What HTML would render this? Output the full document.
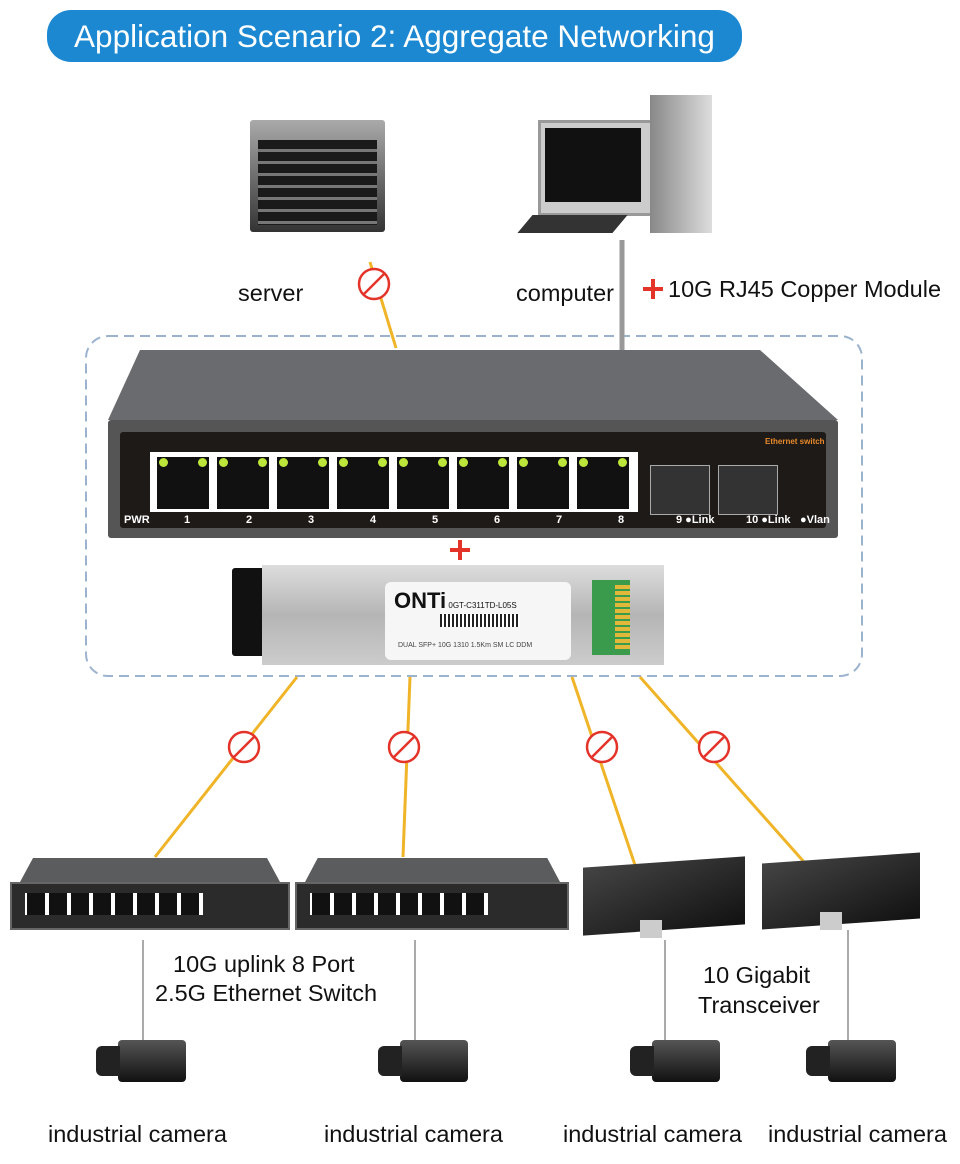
<!DOCTYPE html>
<html><head><style>
body{margin:0;width:960px;height:1164px;background:#fff;position:relative;overflow:hidden;font-family:"Liberation Sans",sans-serif}
.a{position:absolute}
.t{position:absolute;font-size:23.5px;color:#111;white-space:nowrap}
.port{position:absolute;top:455px;width:52px;height:52px;background:#111;border:2px solid #fff}
.led{position:absolute;top:1px;width:9px;height:9px;border-radius:50%;background:#bde63a}
.sw{position:absolute;background:#2b2b2b}
.cam{position:absolute;width:68px;height:42px;background:linear-gradient(#555,#111);border-radius:4px}
.cam:before{content:"";position:absolute;left:-22px;top:6px;width:24px;height:30px;background:#222;border-radius:6px 0 0 6px}
</style></head><body>
<div class="a" style="left:47px;top:10px;width:695px;height:52px;background:#1c88d2;border-radius:24px;color:#fff;font-size:31.5px;line-height:52px;text-align:center">Application Scenario 2: Aggregate Networking</div>

<!-- server -->
<div class="a" style="left:250px;top:120px;width:135px;height:112px;background:linear-gradient(#aaa,#333);border-radius:3px"></div>
<div class="a" style="left:258px;top:140px;width:119px;height:85px;background:repeating-linear-gradient(#1a1a1a 0 9px,#777 9px 12px)"></div>
<!-- computer -->
<div class="a" style="left:538px;top:120px;width:110px;height:90px;background:#ccc;border:3px solid #999"></div>
<div class="a" style="left:545px;top:128px;width:96px;height:74px;background:#111"></div>
<div class="a" style="left:650px;top:95px;width:62px;height:138px;background:linear-gradient(90deg,#888,#ddd)"></div>
<div class="a" style="left:525px;top:215px;width:95px;height:18px;background:#333;transform:skewX(-40deg)"></div>

<svg class="a" style="left:0;top:0" width="960" height="1164">
<rect x="86" y="336" width="776" height="340" rx="22" fill="none" stroke="#9cb3cf" stroke-width="2" stroke-dasharray="10,6"/>
<g stroke="#f0b428" stroke-width="3">
<line x1="370" y1="262" x2="396" y2="348"/>
<line x1="297" y1="677" x2="155" y2="857"/>
<line x1="410" y1="677" x2="403" y2="857"/>
<line x1="572" y1="677" x2="640" y2="880"/>
<line x1="640" y1="677" x2="820" y2="880"/>
</g>
<line x1="622" y1="240" x2="622" y2="350" stroke="#999" stroke-width="5"/>
<g stroke="#aaa" stroke-width="2">
<line x1="143" y1="940" x2="143" y2="1040"/><line x1="415" y1="940" x2="415" y2="1040"/>
<line x1="665" y1="940" x2="665" y2="1040"/><line x1="848" y1="930" x2="848" y2="1040"/></g>
<g fill="#fff" stroke="#e4342a" stroke-width="2.5">
<circle cx="374" cy="284" r="15"/><circle cx="244" cy="747" r="15"/><circle cx="404" cy="747" r="15"/><circle cx="602" cy="747" r="15"/><circle cx="714" cy="747" r="15"/></g>
<g stroke="#e4342a" stroke-width="2.5">
<line x1="364" y1="294" x2="384" y2="274"/><line x1="234" y1="757" x2="254" y2="737"/><line x1="394" y1="757" x2="414" y2="737"/><line x1="592" y1="757" x2="612" y2="737"/><line x1="704" y1="757" x2="724" y2="737"/></g>
<g stroke="#e4342a" stroke-width="4"><line x1="643" y1="289" x2="663" y2="289"/><line x1="653" y1="279" x2="653" y2="299"/>
<line x1="450" y1="550" x2="470" y2="550"/><line x1="460" y1="540" x2="460" y2="560"/></g>
<polygon points="140,350 760,350 838,420 108,420" fill="#6a6b6e"/>
</svg>
<div class="t" style="left:238px;top:280px">server</div>
<div class="t" style="left:516px;top:280px">computer</div>
<div class="t" style="left:668px;top:276px">10G RJ45 Copper Module</div>

<!-- main switch -->
<div class="a" style="left:108px;top:420px;width:730px;height:118px;background:#555;border-radius:3px"></div>
<div class="a" style="left:120px;top:432px;width:706px;height:96px;background:#1e1a18;border-radius:3px"></div>
<div class="a" style="left:150px;top:452px;width:488px;height:60px;background:#fff"></div>
<div class="port" style="left:155px"><div class="led" style="left:2px"></div><div class="led" style="right:2px"></div></div>
<div class="port" style="left:215px"><div class="led" style="left:2px"></div><div class="led" style="right:2px"></div></div>
<div class="port" style="left:275px"><div class="led" style="left:2px"></div><div class="led" style="right:2px"></div></div>
<div class="port" style="left:335px"><div class="led" style="left:2px"></div><div class="led" style="right:2px"></div></div>
<div class="port" style="left:395px"><div class="led" style="left:2px"></div><div class="led" style="right:2px"></div></div>
<div class="port" style="left:455px"><div class="led" style="left:2px"></div><div class="led" style="right:2px"></div></div>
<div class="port" style="left:515px"><div class="led" style="left:2px"></div><div class="led" style="right:2px"></div></div>
<div class="port" style="left:575px"><div class="led" style="left:2px"></div><div class="led" style="right:2px"></div></div>
<div class="a" style="left:650px;top:465px;width:58px;height:48px;background:#333;border:1px solid #aaa"></div>
<div class="a" style="left:718px;top:465px;width:58px;height:48px;background:#333;border:1px solid #aaa"></div>
<div class="a" style="left:120px;top:514px;width:706px;color:#fff;font-size:11px;font-weight:bold;word-spacing:0">
<span class="a" style="left:4px">PWR</span><span class="a" style="left:64px">1</span><span class="a" style="left:126px">2</span><span class="a" style="left:188px">3</span><span class="a" style="left:250px">4</span><span class="a" style="left:312px">5</span><span class="a" style="left:374px">6</span><span class="a" style="left:436px">7</span><span class="a" style="left:498px">8</span><span class="a" style="left:556px">9 ●Link</span><span class="a" style="left:626px">10 ●Link</span><span class="a" style="left:680px">●Vlan</span></div>
<div class="a" style="left:765px;top:437px;color:#e8892a;font-size:8px;font-weight:bold">Ethernet switch</div>

<!-- SFP module -->
<div class="a" style="left:232px;top:568px;width:40px;height:88px;background:#111;border-radius:3px"></div>
<div class="a" style="left:262px;top:565px;width:402px;height:100px;background:linear-gradient(#ddd,#b5b5b5 50%,#ccc)"></div>
<div class="a" style="left:385px;top:582px;width:186px;height:78px;background:#f6f6f6;border-radius:6px"></div>
<div class="a" style="left:394px;top:588px;font-size:22px;font-weight:bold;color:#111">ONTi<span style="font-size:8px;font-weight:normal"> 0GT-C311TD-L05S</span></div>
<div class="a" style="left:440px;top:614px;width:80px;height:13px;background:repeating-linear-gradient(90deg,#222 0 2px,#fff 2px 4px)"></div>
<div class="a" style="left:398px;top:642px;font-size:7px;color:#444">DUAL SFP+ 10G 1310 1.5Km SM LC DDM</div>
<div class="a" style="left:592px;top:580px;width:38px;height:75px;background:#3a9b4c"></div>
<div class="a" style="left:615px;top:585px;width:15px;height:64px;background:repeating-linear-gradient(#e1b83a 0 4px,#3a9b4c 4px 6px)"></div>

<!-- small switches -->
<div class="a" style="left:20px;top:858px;width:260px;height:24px;background:#5b5c5e;clip-path:polygon(5% 0,95% 0,100% 100%,0 100%)"></div>
<div class="sw" style="left:10px;top:882px;width:276px;height:44px;border:2px solid #666"></div>
<div class="a" style="left:25px;top:893px;width:178px;height:22px;background:repeating-linear-gradient(90deg,#fff 0 2px,#111 2px 20px,#fff 20px 22px)"></div>
<div class="a" style="left:305px;top:858px;width:255px;height:24px;background:#5b5c5e;clip-path:polygon(5% 0,95% 0,100% 100%,0 100%)"></div>
<div class="sw" style="left:295px;top:882px;width:270px;height:44px;border:2px solid #666"></div>
<div class="a" style="left:310px;top:893px;width:178px;height:22px;background:repeating-linear-gradient(90deg,#fff 0 2px,#111 2px 20px,#fff 20px 22px)"></div>
<!-- media converters -->
<div class="a" style="left:583px;top:862px;width:162px;height:68px;background:linear-gradient(160deg,#444,#111);transform:skewY(-4deg)"></div>
<div class="a" style="left:640px;top:920px;width:22px;height:18px;background:#ccc"></div>
<div class="a" style="left:762px;top:858px;width:158px;height:66px;background:linear-gradient(160deg,#444,#111);transform:skewY(-4deg)"></div>
<div class="a" style="left:820px;top:912px;width:22px;height:18px;background:#ccc"></div>

<div class="t" style="left:173px;top:951px">10G uplink 8 Port</div>
<div class="t" style="left:155px;top:980px">2.5G Ethernet Switch</div>
<div class="t" style="left:703px;top:962px">10 Gigabit</div>
<div class="t" style="left:698px;top:992px">Transceiver</div>

<div class="cam" style="left:118px;top:1040px"></div>
<div class="cam" style="left:400px;top:1040px"></div>
<div class="cam" style="left:652px;top:1040px"></div>
<div class="cam" style="left:828px;top:1040px"></div>

<div class="t" style="left:48px;top:1121px">industrial camera</div>
<div class="t" style="left:324px;top:1121px">industrial camera</div>
<div class="t" style="left:563px;top:1121px">industrial camera</div>
<div class="t" style="left:768px;top:1121px">industrial camera</div>
</body></html>
